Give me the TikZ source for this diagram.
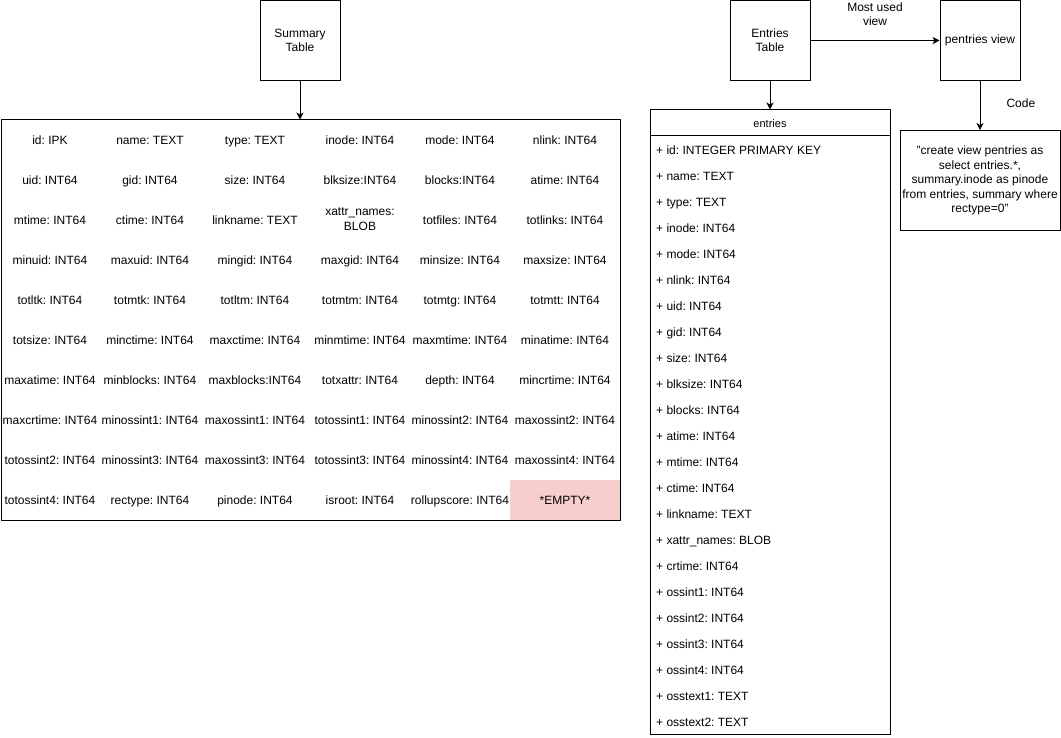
\documentclass[tikz,border=0pt]{standalone}
\usepackage{fontspec}
\setmainfont{Liberation Sans}
\usetikzlibrary{arrows.meta}
\definecolor{emptypink}{HTML}{F8CECC}
\frenchspacing
\begin{document}
\begin{tikzpicture}[x=1pt,y=-1pt,
  font=\fontsize{12}{14.4}\selectfont,
  boxnode/.style={draw, line width=1pt, minimum width=80pt, minimum height=80pt, inner sep=0pt, align=center},
  cellnode/.style={inner sep=0pt, align=center, text height=8.6pt, text depth=0pt},
  rownode/.style={inner sep=0pt, anchor=west, text height=8.6pt, text depth=0pt},
  arr/.style={line width=1pt, -{Stealth[length=7pt,width=7pt,inset=2pt]}},
  lbl/.style={inner sep=0pt, align=center}]
\useasboundingbox (0,0) rectangle (1061,738);

% ---------- Summary side ----------
\node[boxnode] (sumbox) at (300,40.5) {Summary\\Table};
\fill[emptypink] (510,480) rectangle (620,520);
\node[draw, line width=1pt, minimum width=619pt, minimum height=400pt, inner sep=0pt] (sumtab) at (310.5,320) {};
\draw[arr] (sumbox.south) -- (sumtab.north -| sumbox.south);

\foreach \r/\a/\b/\c/\d/\e/\f [count=\i] in {
  140/{id: IPK}/{name: TEXT}/{type: TEXT}/{inode: INT64}/{mode: INT64}/{nlink: INT64},
  180/{uid: INT64}/{gid: INT64}/{size: INT64}/{blksize:INT64}/{blocks:INT64}/{atime: INT64},
  220/{mtime: INT64}/{ctime: INT64}/{linkname: TEXT}/{xattr\_names:\\BLOB}/{totfiles: INT64}/{totlinks: INT64},
  260/{minuid: INT64}/{maxuid: INT64}/{mingid: INT64}/{maxgid: INT64}/{minsize: INT64}/{maxsize: INT64},
  300/{totltk: INT64}/{totmtk: INT64}/{totltm: INT64}/{totmtm: INT64}/{totmtg: INT64}/{totmtt: INT64},
  340/{totsize: INT64}/{minctime: INT64}/{maxctime: INT64}/{minmtime: INT64}/{maxmtime: INT64}/{minatime: INT64},
  380/{maxatime: INT64}/{minblocks: INT64}/{maxblocks:INT64}/{totxattr: INT64}/{depth: INT64}/{mincrtime: INT64},
  420/{maxcrtime: INT64}/{minossint1: INT64}/{maxossint1: INT64}/{totossint1: INT64}/{minossint2: INT64}/{maxossint2: INT64},
  460/{totossint2: INT64}/{minossint3: INT64}/{maxossint3: INT64}/{totossint3: INT64}/{minossint4: INT64}/{maxossint4: INT64},
  500/{totossint4: INT64}/{rectype: INT64}/{pinode: INT64}/{isroot: INT64}/{rollupscore: INT64}/{*EMPTY*}}
{
  \pgfmathsetmacro\dy{\i==3 ? 6 : 0}
  \node[cellnode] (s\i a) at (50,\r) {\a};
  \node[cellnode] (s\i b) at (150,\r) {\b};
  \node[cellnode] (s\i c) at (255,\r) {\c};
  \node[cellnode] (s\i d) at (360,\r+\dy) {\d};
  \node[cellnode] (s\i e) at (460,\r) {\e};
  \node[cellnode] (s\i f) at (565,\r) {\f};
}

% ---------- Entries side ----------
\node[boxnode] (entbox) at (770,40.5) {Entries\\Table};
\node[boxnode] (pview) at (980,40.5) {pentries view};
\draw[arr] (entbox.east) -- (pview.west) node[lbl, midway, above=14pt] (mostused) {Most used\\view};

\node[draw, line width=1pt, minimum width=240pt, minimum height=624pt, inner sep=0pt] (enttab) at (770,422) {};
\coordinate (hl) at (650,136);
\coordinate (hr) at (890,136);
\draw[line width=1pt] (hl) -- (hr);
\node[inner sep=0pt, font=\fontsize{11}{13}\selectfont, text height=7.9pt, text depth=0pt] (enthead) at (770,123.5) {entries};
\draw[arr] (entbox.south) -- (enttab.north -| entbox.south);

\foreach \t [count=\k from 0] in {
  {+ id: INTEGER PRIMARY KEY}, {+ name: TEXT}, {+ type: TEXT}, {+ inode: INT64},
  {+ mode: INT64}, {+ nlink: INT64}, {+ uid: INT64}, {+ gid: INT64}, {+ size: INT64},
  {+ blksize: INT64}, {+ blocks: INT64}, {+ atime: INT64}, {+ mtime: INT64},
  {+ ctime: INT64}, {+ linkname: TEXT}, {+ xattr\_names: BLOB}, {+ crtime: INT64},
  {+ ossint1: INT64}, {+ ossint2: INT64}, {+ ossint3: INT64}, {+ ossint4: INT64},
  {+ osstext1: TEXT}, {+ osstext2: TEXT}}
{
  \node[rownode] (e\k) at (656,150+26*\k) {\t};
}

\node[draw, line width=1pt, minimum width=160pt, minimum height=100pt, inner sep=0pt, align=center] (code) at (980,180.5)
  {"create view pentries as\\select entries.*,\\summary.inode as pinode\\from entries, summary where\\rectype=0"};
\draw[arr] (pview.south) -- (code.north) node[lbl, pos=0.45, right=26pt] (codelbl) {Code};
\end{tikzpicture}
\end{document}
